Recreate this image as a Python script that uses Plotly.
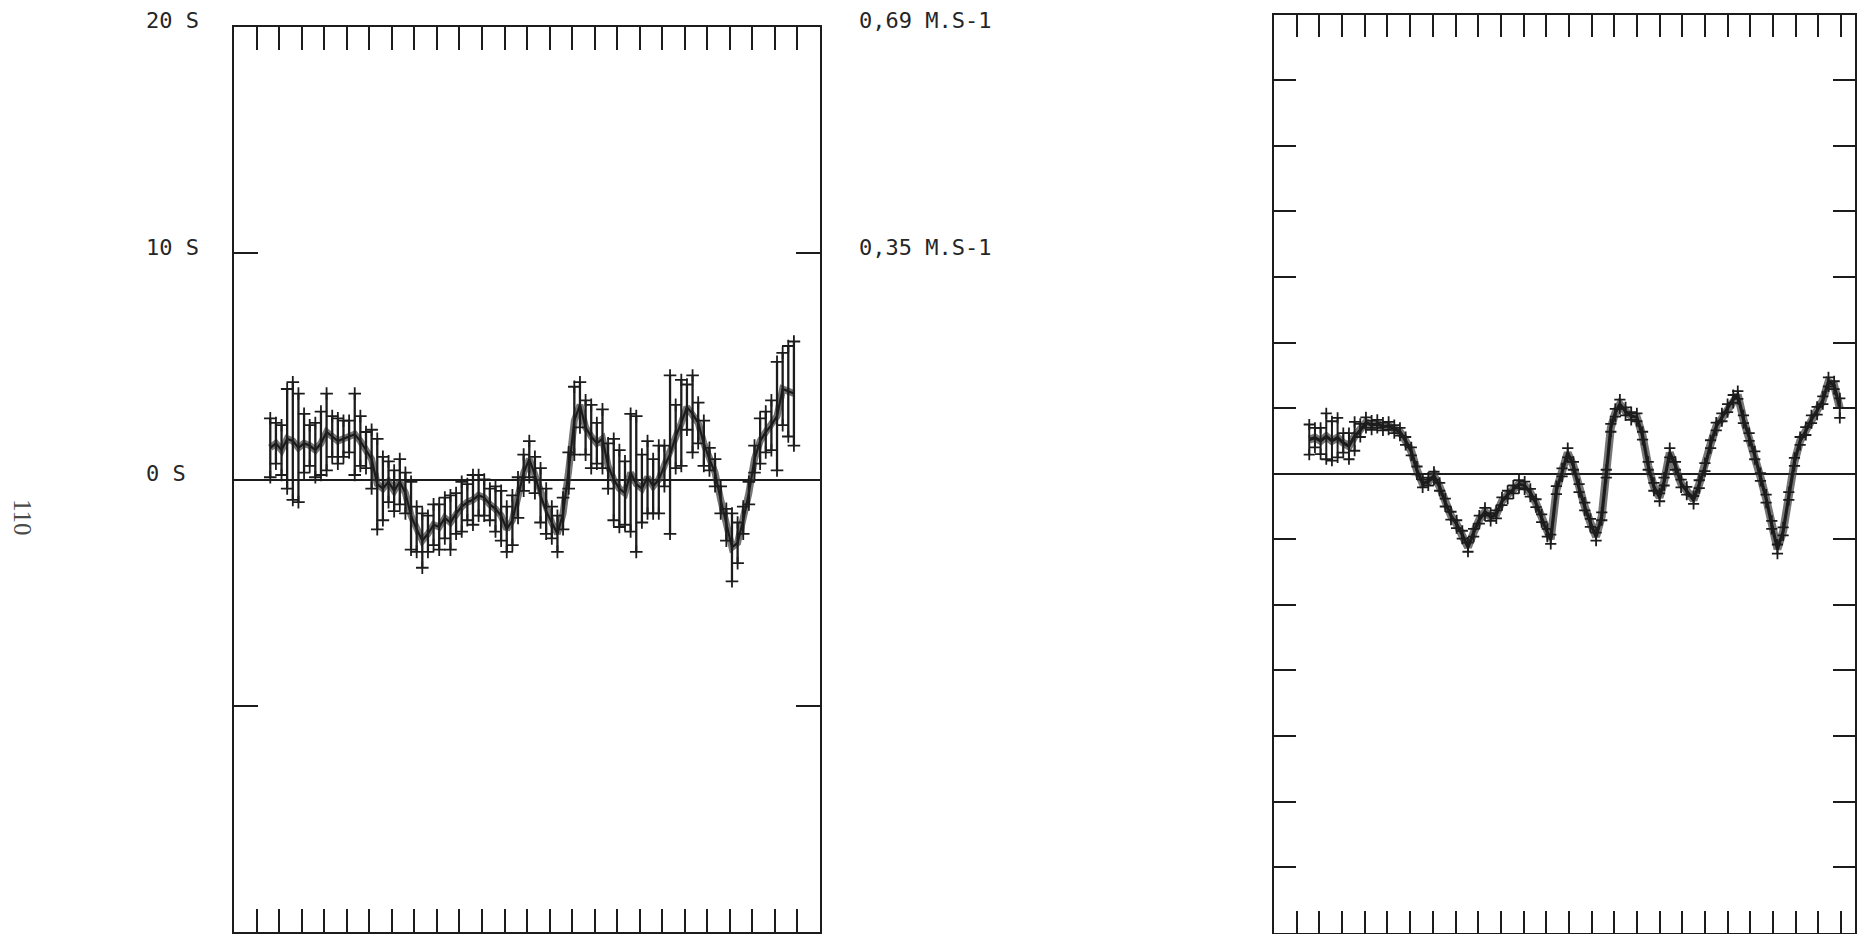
import plotly.graph_objects as go

# ---------------- data: left panel (seconds) ----------------
left_x = [1.60, 1.85, 2.10, 2.35, 2.60, 2.85, 3.10, 3.35, 3.60, 3.85,
          4.10, 4.35, 4.60, 4.85, 5.10, 5.35, 5.60, 5.85, 6.10, 6.35,
          6.60, 6.85, 7.10, 7.35, 7.60, 7.85, 8.10, 8.35, 8.60, 8.85,
          9.10, 9.35, 9.60, 9.85, 10.10, 10.35, 10.60, 10.85, 11.10, 11.35,
          11.60, 11.85, 12.10, 12.35, 12.60, 12.85, 13.10, 13.35, 13.60, 13.85,
          14.10, 14.35, 14.60, 14.85, 15.10, 15.35, 15.60, 15.85, 16.10, 16.35,
          16.60, 16.85, 17.10, 17.35, 17.60, 17.85, 18.10, 18.35, 18.60, 18.85,
          19.10, 19.35, 19.60, 19.85, 20.10, 20.35, 20.60, 20.85, 21.10, 21.35,
          21.60, 21.85, 22.10, 22.35, 22.60, 22.85, 23.10, 23.35, 23.60, 23.85,
          24.10, 24.35, 24.60, 24.85]
left_y = [1.4, 1.6, 1.3, 1.8, 1.7, 1.4, 1.6, 1.5, 1.3, 1.6,
          2.1, 1.9, 1.7, 1.8, 1.9, 2.0, 1.7, 1.3, 0.9, -0.2,
          -0.4, -0.1, -0.5, -0.1, -0.6, -1.6, -2.2, -2.7, -2.4, -2.0,
          -2.1, -1.7, -1.9, -1.5, -1.2, -1.0, -0.9, -0.7, -0.8, -1.1,
          -1.3, -1.6, -2.2, -1.8, -0.8, 0.3, 0.9, 0.2, -0.7, -1.4,
          -1.9, -2.4, -1.5, 0.4, 2.6, 3.3, 2.3, 1.9, 1.6, 1.8,
          0.6, 0.0, -0.4, -0.6, 0.3, -0.2, -0.4, 0.1, -0.3, 0.0,
          0.6, 1.1, 1.9, 2.5, 3.2, 2.9, 2.5, 1.6, 0.9, 0.3,
          -0.9, -2.0, -3.0, -2.8, -1.8, -0.6, 0.9, 1.7, 2.1, 2.4,
          2.8, 4.0, 3.9, 3.8]
left_err = [1.3, 0.9, 1.1, 2.2, 2.6, 2.4, 1.3, 0.9, 1.2, 1.4,
            1.7, 0.9, 1.0, 0.8, 0.7, 1.8, 1.1, 0.8, 1.3, 2.0,
            1.4, 0.9, 0.9, 1.0, 0.9, 1.5, 1.0, 1.2, 0.8, 0.9,
            1.0, 0.9, 1.2, 0.9, 1.1, 0.8, 1.1, 0.9, 0.8, 0.7,
            1.0, 1.1, 1.0, 1.1, 0.9, 0.8, 0.8, 0.8, 1.2, 1.0,
            0.7, 0.8, 0.7, 0.8, 1.5, 1.0, 1.2, 1.4, 0.9, 1.3,
            1.0, 1.8, 1.7, 1.4, 2.6, 3.0, 1.5, 1.6, 1.2, 1.5,
            0.9, 3.5, 1.4, 1.9, 1.0, 1.7, 0.9, 1.0, 0.5, 0.6,
            0.6, 0.7, 1.5, 0.9, 0.6, 0.5, 0.6, 1.0, 0.9, 1.1,
            2.4, 1.6, 2.0, 2.3]

# ---------------- data: right panel (tick units) ----------------
right_x = [1.55, 1.80, 2.05, 2.30, 2.55, 2.80, 3.05, 3.30, 3.55, 3.80,
           4.05, 4.30, 4.55, 4.80, 5.05, 5.30, 5.55, 5.80, 6.05, 6.30,
           6.55, 6.80, 7.05, 7.30, 7.55, 7.80, 8.05, 8.30, 8.55, 8.80,
           9.05, 9.30, 9.55, 9.80, 10.05, 10.30, 10.55, 10.80, 11.05, 11.30,
           11.55, 11.80, 12.05, 12.20, 12.45, 12.70, 12.95, 13.20, 13.45, 13.70,
           13.95, 14.20, 14.45, 14.65, 14.85, 15.05, 15.25, 15.50, 15.75, 16.00,
           16.25, 16.50, 16.75, 17.00, 17.20, 17.45, 17.70, 17.95, 18.20, 18.50,
           18.75, 19.00, 19.25, 19.50, 19.75, 20.00, 20.25, 20.45, 20.70, 20.95,
           21.20, 21.45, 21.70, 21.95, 22.20, 22.45, 22.70, 22.95, 23.20, 23.45,
           23.70, 23.95, 24.20, 24.45, 24.70, 24.95]
right_y = [0.52, 0.55, 0.50, 0.57, 0.50, 0.55, 0.47, 0.42, 0.57, 0.66,
           0.78, 0.74, 0.76, 0.72, 0.73, 0.68, 0.64, 0.50, 0.34, 0.05,
           -0.15, -0.12, -0.03, -0.20, -0.44, -0.64, -0.77, -0.93, -1.12, -0.90,
           -0.70, -0.58, -0.66, -0.62, -0.42, -0.32, -0.24, -0.16, -0.18, -0.29,
           -0.45, -0.68, -0.90, -1.00, -0.25, 0.02, 0.32, 0.12, -0.22, -0.50,
           -0.75, -0.96, -0.65, 0.00, 0.70, 0.93, 1.06, 0.95, 0.88, 0.86,
           0.58, 0.12, -0.20, -0.36, -0.12, 0.32, 0.12, -0.15, -0.26, -0.40,
           -0.16, 0.10, 0.45, 0.72, 0.86, 1.00, 1.14, 1.20, 0.83, 0.56,
           0.28, -0.05, -0.38, -0.78, -1.15, -0.88, -0.34, 0.18, 0.50, 0.65,
           0.83, 0.96, 1.12, 1.40, 1.35, 1.00]
right_err = [0.23, 0.15, 0.20, 0.35, 0.30, 0.30, 0.15, 0.20, 0.22, 0.10,
             0.08, 0.07, 0.06, 0.06, 0.06, 0.06, 0.06, 0.06, 0.06, 0.06,
             0.06, 0.06, 0.06, 0.06, 0.06, 0.06, 0.06, 0.06, 0.07, 0.06,
             0.06, 0.06, 0.06, 0.06, 0.06, 0.06, 0.06, 0.06, 0.06, 0.06,
             0.06, 0.06, 0.06, 0.07, 0.06, 0.06, 0.07, 0.06, 0.06, 0.06,
             0.06, 0.06, 0.06, 0.06, 0.06, 0.06, 0.07, 0.06, 0.06, 0.06,
             0.06, 0.06, 0.06, 0.06, 0.06, 0.07, 0.06, 0.06, 0.06, 0.06,
             0.06, 0.06, 0.06, 0.06, 0.06, 0.06, 0.06, 0.06, 0.06, 0.06,
             0.06, 0.06, 0.06, 0.06, 0.07, 0.06, 0.06, 0.06, 0.06, 0.06,
             0.06, 0.06, 0.06, 0.07, 0.06, 0.15]

# ---------------- labels ----------------
left_labels = ["20 S", "10 S", "0 S"]
left_label_vals = [20, 10, 0]
right_labels = ["0,69 M.S-1", "0,35 M.S-1"]
right_label_vals = [20, 10]
page_number = "110"

INK = "#1c1c1c"
SMEAR = "rgba(60,60,60,0.7)"
W, H = 1857, 934

fig = go.Figure()


def add_series(xs, ys, es, xa, ya, lw, bar_w, smear_w, mk_size):
    # soft dark band under the curve (scan smear of the dense plotted points)
    fig.add_trace(go.Scatter(
        x=xs, y=ys, mode="lines", xaxis=xa, yaxis=ya,
        line=dict(color=SMEAR, width=smear_w),
        hoverinfo="skip", showlegend=False))
    fig.add_trace(go.Scatter(
        x=xs, y=ys, mode="lines", xaxis=xa, yaxis=ya,
        line=dict(color=INK, width=lw),
        error_y=dict(type="data", array=es, visible=True, color=INK,
                     thickness=bar_w, width=0),
        hoverinfo="skip", showlegend=False))
    ends_x = list(xs) + list(xs)
    ends_y = [y + e for y, e in zip(ys, es)] + [y - e for y, e in zip(ys, es)]
    fig.add_trace(go.Scatter(
        x=ends_x, y=ends_y, mode="markers", xaxis=xa, yaxis=ya,
        marker=dict(symbol="cross-thin", size=mk_size,
                    line=dict(color=INK, width=1.8)),
        hoverinfo="skip", showlegend=False))


add_series(left_x, left_y, left_err, "x", "y", 2.2, 2.3, 7, 9)
add_series(right_x, right_y, right_err, "x2", "y2", 3.2, 2.0, 8, 8)

common_axis = dict(showgrid=False, ticks="inside", tickcolor=INK,
                   showticklabels=False, linecolor=INK)

fig.update_layout(
    width=W, height=H,
    margin=dict(l=0, r=0, t=0, b=0),
    paper_bgcolor="white", plot_bgcolor="white",
    showlegend=False,
    xaxis=dict(domain=[234.5 / W, 820.7 / W], range=[0, 26],
               tickmode="linear", tick0=0, dtick=1, ticklen=23, tickwidth=1.6,
               showline=True, linewidth=2, mirror="ticks", zeroline=False,
               anchor="y", **common_axis),
    yaxis=dict(domain=[1 - 932 / H, 1 - 27 / H], range=[-20, 20],
               tickmode="array", tickvals=[-10, 10], ticklen=24, tickwidth=2,
               showline=True, linewidth=2, mirror="ticks",
               zeroline=True, zerolinecolor=INK, zerolinewidth=1.5,
               anchor="x", **common_axis),
    xaxis2=dict(domain=[1275.5 / W, 1.0], range=[0, 25.62],
                tickmode="linear", tick0=0, dtick=1, ticklen=22, tickwidth=1.8,
                showline=True, linewidth=2, mirror="ticks", zeroline=False,
                anchor="y2", **common_axis),
    yaxis2=dict(domain=[1 - 932.7 / H, 1 - 14.7 / H], range=[-7, 7],
                tickmode="linear", tick0=0, dtick=1, ticklen=22, tickwidth=2,
                showline=True, linewidth=2, mirror="ticks",
                zeroline=True, zerolinecolor=INK, zerolinewidth=1.5,
                anchor="x2", **common_axis),
)

label_font = dict(family="DejaVu Sans Mono", size=22, color="#262626")
for txt, v in zip(left_labels, left_label_vals):
    fig.add_annotation(text=txt, x=144 / W, xref="paper", y=v, yref="y",
                       xanchor="left", yanchor="middle", yshift=6,
                       showarrow=False, font=label_font)
for txt, v in zip(right_labels, right_label_vals):
    fig.add_annotation(text=txt, x=858 / W, xref="paper", y=v, yref="y",
                       xanchor="left", yanchor="middle", yshift=6,
                       showarrow=False, font=label_font)

fig.add_annotation(text=page_number, x=23 / W, xref="paper", y=1 - 518 / H,
                   yref="paper", textangle=90, showarrow=False,
                   xanchor="center", yanchor="middle",
                   font=dict(family="Liberation Serif", size=25, color="#4a4a4a"))

fig.write_html("out.html")
